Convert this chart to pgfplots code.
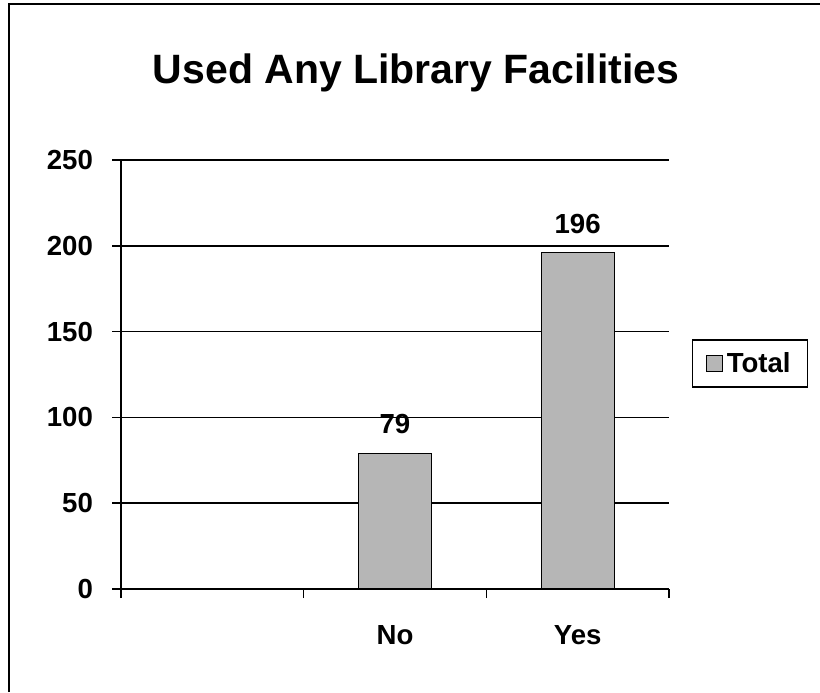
\documentclass[border=0pt]{standalone}
\usepackage{pgfplots}
\pgfplotsset{compat=1.18}
\usepackage{fontspec}
\setmainfont{Liberation Sans}
\definecolor{barfill}{RGB}{182,182,182}
\newcommand{\tickfont}{\bfseries\fontsize{13.8}{16}\selectfont}
\begin{document}
\begin{tikzpicture}[x=1pt,y=1pt]
\path[use as bounding box] (0,0) rectangle (410,346);
\draw[line width=0.8pt] (4.5,0) -- (4.5,344) -- (410,344);
\node[font=\bfseries\fontsize{20.5}{24}\selectfont] at (208,309.5) {Used Any Library Facilities};
\begin{axis}[
    at={(60.5pt,51.5pt)}, anchor=south west,
    scale only axis, width=274pt, height=214.5pt,
    xmin=0, xmax=3, ymin=0, ymax=250,
    ytick={0,50,...,250},
    xtick={0,1,2,3}, xticklabels={},
    extra x ticks={1.5,2.5},
    extra x tick labels={No,Yes},
    extra x tick style={major tick length=0pt, grid=none,
        xticklabel style={yshift=-14.5pt}},
    axis x line=bottom, axis y line=left,
    axis line style={-, line width=0.8pt},
    ymajorgrids, grid style={black, line width=0.8pt},
    tick style={black, line width=0.8pt},
    tick align=outside, major tick length=4.5pt,
    /pgf/number format/assume math mode=true,
    ticklabel style={font=\tickfont},
    yticklabel style={xshift=-6pt},
    ybar, bar width=0.4,
    nodes near coords,
    every node near coord/.append style={font=\tickfont, yshift=6pt},
    legend style={at={(axis description cs:1.148,0.5256)}, anchor=center,
        draw=black, line width=0.7pt, font=\tickfont,
        inner xsep=6.5pt, inner ysep=4pt},
    legend image code/.code={\draw[#1, line width=0.6pt] (0pt,-4pt) rectangle (8pt,4pt);},
]
\addplot[fill=barfill, draw=black, line width=0.6pt] coordinates {(1.5,79) (2.5,196)};
\legend{Total}
\end{axis}
\end{tikzpicture}
\end{document}
